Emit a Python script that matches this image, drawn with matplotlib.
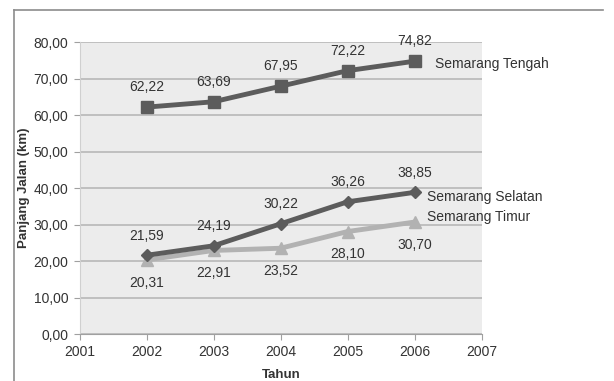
import matplotlib
matplotlib.use("Agg")
import matplotlib.pyplot as plt
from matplotlib.lines import Line2D

plt.rcParams['font.family'] = ['Liberation Sans', 'DejaVu Sans']

years = [2002, 2003, 2004, 2005, 2006]
tengah = [62.22, 63.69, 67.95, 72.22, 74.82]
selatan = [21.59, 24.19, 30.22, 36.26, 38.85]
timur = [20.31, 22.91, 23.52, 28.10, 30.70]
series_names = ["Semarang Tengah", "Semarang Selatan", "Semarang Timur"]
x_ticks = [2001, 2002, 2003, 2004, 2005, 2006, 2007]
y_ticks = [0, 10, 20, 30, 40, 50, 60, 70, 80]

dark = "#5c5c5c"
light = "#b2b2b2"
text_c = "#333333"

fig = plt.figure(figsize=(6.14, 3.81), dpi=100)
fig.patch.set_facecolor("white")
W, H = 614, 381
ax = fig.add_axes([79.5 / W, 47 / H, (481.6 - 79.5) / W, (334 - 42.3) / H])
ax.set_facecolor("#ececec")

ax.set_xlim(2001, 2007)
ax.set_ylim(0, 80)
ax.set_yticks(y_ticks)
ax.set_xticks(x_ticks)
ax.set_yticklabels([f"{v:.2f}".replace(".", ",") for v in y_ticks], fontsize=10, color=text_c)
ax.set_xticklabels([str(v) for v in x_ticks], fontsize=10, color=text_c)
ax.yaxis.grid(True, color="#b8b8b8", linewidth=1.2)
ax.set_axisbelow(True)
for s in ["top", "right"]:
    ax.spines[s].set_visible(False)
ax.spines["left"].set_color("#d0d0d0")
ax.spines["bottom"].set_color("#a0a0a0")
ax.tick_params(axis="both", direction="out", length=4, color="#a0a0a0", pad=4)

ax.plot(years, tengah, color=dark, lw=3.5, marker="s", ms=8.5, zorder=3)
ax.plot(years, timur, color=light, lw=3.5, marker="^", ms=8.5, zorder=3)
ax.plot(years, selatan, color=dark, lw=3.5, marker="D", ms=6.5, zorder=4)

for x, v in zip(years, tengah):
    ax.annotate(f"{v:.2f}".replace(".", ","), (x, v), xytext=(0, 14.5), textcoords="offset points",
                ha="center", va="center", fontsize=10, color=text_c)
for x, v in zip(years, selatan):
    ax.annotate(f"{v:.2f}".replace(".", ","), (x, v), xytext=(0, 14), textcoords="offset points",
                ha="center", va="center", fontsize=10, color=text_c)
for x, v in zip(years, timur):
    ax.annotate(f"{v:.2f}".replace(".", ","), (x, v), xytext=(0, -16.5), textcoords="offset points",
                ha="center", va="center", fontsize=10, color=text_c)

ax.annotate(series_names[0], (years[-1], tengah[-1]), xytext=(15, -2), textcoords="offset points",
            ha="left", va="center", fontsize=10, color=text_c, annotation_clip=False)
ax.annotate(series_names[1], (years[-1], selatan[-1]), xytext=(9, -3), textcoords="offset points",
            ha="left", va="center", fontsize=10, color=text_c, annotation_clip=False)
ax.annotate(series_names[2], (years[-1], timur[-1]), xytext=(9, 4), textcoords="offset points",
            ha="left", va="center", fontsize=10, color=text_c, annotation_clip=False)

fig.text(23.5 / W, 1 - 188 / H, "Panjang Jalan (km)", rotation=90, ha="center", va="center",
         fontsize=9.5, fontweight="bold", color=text_c)
fig.text(281 / W, 1 - 375 / H, "Tahun", ha="center", va="center",
         fontsize=9.5, fontweight="bold", color=text_c)

# outer chart frame (left and top edges)
fig.add_artist(Line2D([13.7 / W, 13.7 / W], [0, 1 - 10 / H], transform=fig.transFigure,
                      color="#8c8c8c", lw=1.2))
fig.add_artist(Line2D([13.7 / W, 603 / W], [1 - 10 / H, 1 - 10 / H], transform=fig.transFigure,
                      color="#8c8c8c", lw=1.2))

fig.savefig("out.png", dpi=100)
